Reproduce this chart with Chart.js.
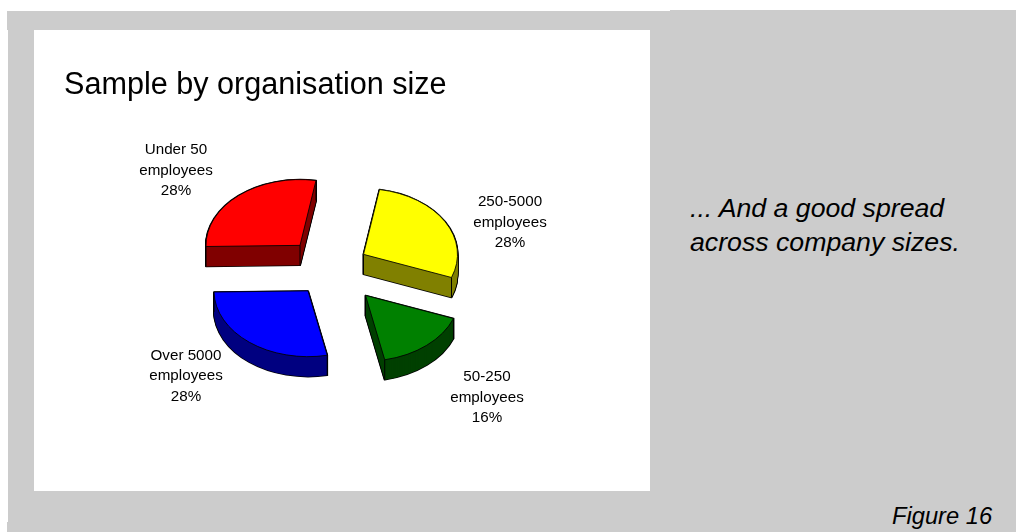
<!DOCTYPE html>
<html>
<head>
<meta charset="utf-8">
<title>Sample by organisation size</title>
<script src="https://cdn.jsdelivr.net/npm/chart.js@4"></script>
<style>
    html, body { margin: 0; padding: 0; background: #fff; }
    body { position: relative; width: 1016px; height: 532px; overflow: hidden; font-family: "Liberation Sans", Arial, sans-serif; }
    .grey { position: absolute; background: #ccc; }
    #slide { position: absolute; left: 34px; top: 30px; width: 616px; height: 461px; background: #fff; }
    .note { position: absolute; font-style: italic; color: #000; white-space: nowrap; }
    #comment { left: 690px; top: 191px; font-size: 26.7px; line-height: 34px; }
    #figure { left: 892px; top: 502px; font-size: 23.7px; line-height: 28px; }
</style>
</head>
<body>
<div class="grey" style="left:8px;top:30px;width:1008px;height:502px"></div>
<div class="grey" style="left:7px;top:11px;width:1009px;height:19px"></div>
<div class="grey" style="left:670px;top:10px;width:346px;height:1px"></div>
<div class="grey" style="left:7px;top:522px;width:1px;height:10px"></div>
<div id="slide"><canvas id="pie" width="616" height="461"></canvas></div>
<div class="note" id="comment">... And a good spread<br>across company sizes.</div>
<div class="note" id="figure">Figure 16</div>

<script>
const chartTitle = 'Sample by organisation size';
const sizeGroups = [
    ['250-5000', 'employees'],
    ['50-250', 'employees'],
    ['Over 5000', 'employees'],
    ['Under 50', 'employees']
];
const sharePercent = [28, 16, 28, 28];
const topColors = ['#ffff00', '#008000', '#0000ff', '#ff0000'];
const sideColors = ['#808000', '#004000', '#000080', '#800000'];

const FONT = '"Liberation Sans", Arial, sans-serif';

// Tilted, exploded pie: each arc is drawn several times under a squashed transform
const tiltedPie = {
    id: 'tiltedPie',
    beforeDatasetsDraw(chart, args, opts) {
        const ctx = chart.ctx;
        const arcs = chart.getDatasetMeta(0).data;

        arcs.forEach((arc, i) => {
            const { x, y, startAngle, endAngle, outerRadius } = arc.getProps(['x', 'y', 'startAngle', 'endAngle', 'outerRadius']);
            const [ex, ey] = opts.explode[i];
            const original = arc.options;

            const stamp = (drop, fill, border, width) => {
                arc.options = { ...original, backgroundColor: fill, borderColor: border, borderWidth: width, borderJoinStyle: 'round' };
                ctx.save();
                ctx.translate(x + ex, y + ey + drop);
                ctx.scale(1, opts.squash);
                ctx.translate(-x, -y);
                arc.draw(ctx);
                ctx.restore();
            };

            // black silhouette of the solid, then the side faces over it
            for (let d = opts.depth; d >= 0; d--) stamp(d, '#000', '#000', 2);
            for (let d = opts.depth; d >= 0; d--) stamp(d, sideColors[i], sideColors[i], 0);

            // vertical edges at the apex and both ends of the rim
            const corners = [
                [0, 0],
                [Math.cos(startAngle) * outerRadius, Math.sin(startAngle) * outerRadius],
                [Math.cos(endAngle) * outerRadius, Math.sin(endAngle) * outerRadius]
            ];
            ctx.save();
            ctx.strokeStyle = '#000';
            ctx.lineWidth = 1;
            corners.forEach(([cx, cy]) => {
                const px = x + ex + cx;
                const py = y + ey + cy * opts.squash;
                ctx.beginPath();
                ctx.moveTo(px, py);
                ctx.lineTo(px, py + opts.depth);
                ctx.stroke();
            });
            ctx.restore();

            stamp(0, topColors[i], '#000', 1);
            arc.options = original;

            // category label and share
            const [dx, dy] = opts.labelShift[i];
            const lines = [...sizeGroups[i], sharePercent[i] + '%'];
            ctx.save();
            ctx.fillStyle = '#000';
            ctx.font = opts.labelFont;
            ctx.textAlign = 'center';
            ctx.textBaseline = 'middle';
            lines.forEach((line, n) => {
                ctx.fillText(line, x + dx, y + dy + (n - 1) * opts.labelLeading);
            });
            ctx.restore();
        });
        return false;
    }
};

new Chart(document.getElementById('pie'), {
    type: 'pie',
    data: {
        labels: sizeGroups.map(g => g.join(' ')),
        datasets: [{
            data: sharePercent,
            backgroundColor: topColors,
            borderColor: '#000',
            borderWidth: 1,
            radius: 94
        }]
    },
    options: {
        responsive: false,
        animation: false,
        rotation: 9.8,
        layout: { padding: { left: 30, right: 52, top: 37, bottom: 56 } },
        plugins: {
            legend: { display: false },
            tooltip: { enabled: false },
            title: {
                display: true,
                text: chartTitle,
                align: 'start',
                color: '#000',
                font: { family: FONT, size: 30.6, weight: 'normal' },
                padding: 0
            },
            tiltedPie: {
                squash: 0.7,
                depth: 20,
                explode: [[32.5, -15], [34.5, 26], [-23, 21.5], [-31, -24]],
                labelFont: '15.2px ' + FONT,
                labelLeading: 20.5,
                labelShift: [[179, -47], [156, 128], [-145, 106.5], [-155, -99]]
            }
        }
    },
    plugins: [tiltedPie]
});
</script>
</body>
</html>
